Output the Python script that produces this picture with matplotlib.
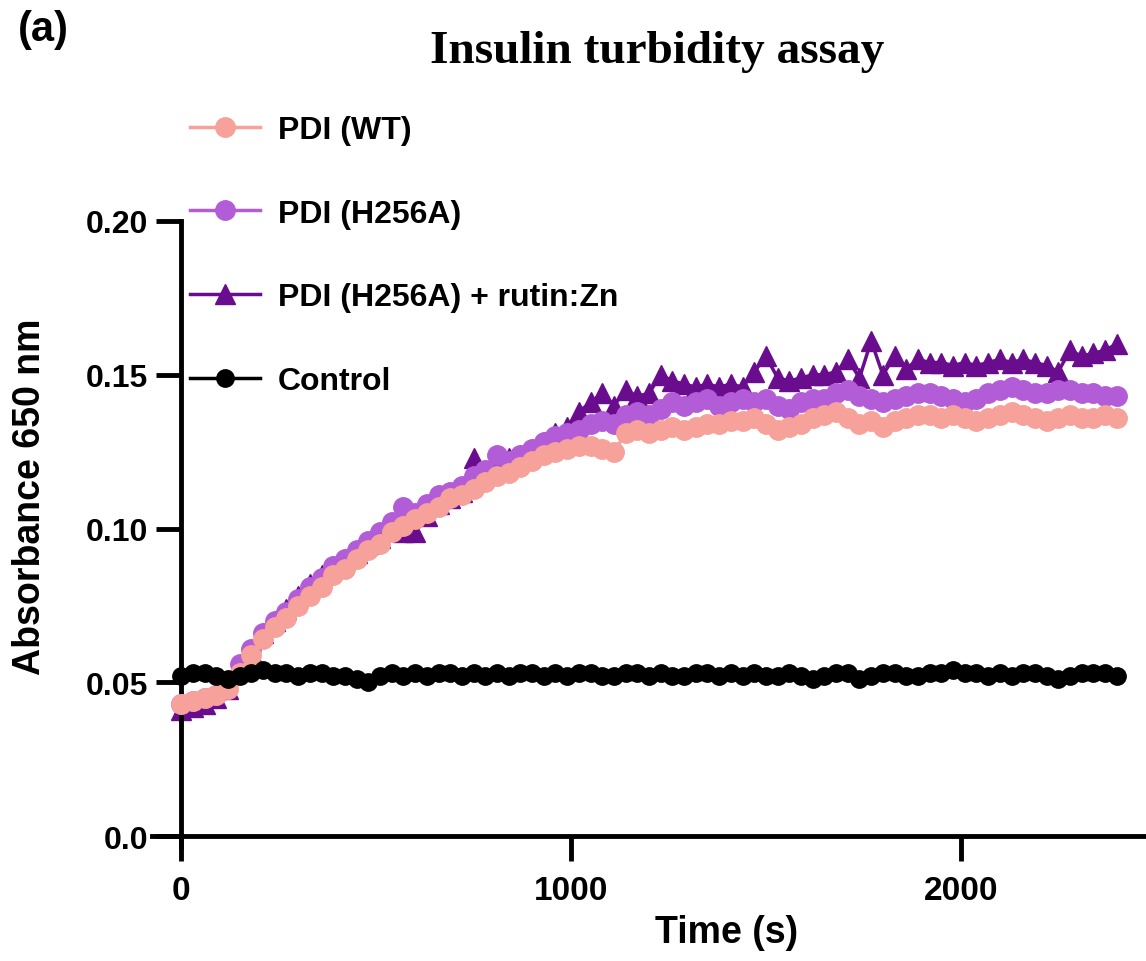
import matplotlib
matplotlib.use("Agg")
import matplotlib.pyplot as plt
import numpy as np

# time points (s), one reading every 30 s
time_s = list(range(0, 2401, 30))

pdi_wt = [
    0.043, 0.044, 0.045, 0.046, 0.048, 0.053, 0.059, 0.064, 0.068, 0.071,
    0.075, 0.078, 0.081, 0.085, 0.087, 0.090, 0.093, 0.095, 0.099, 0.101,
    0.103, 0.105, 0.107, 0.110, 0.111, 0.113, 0.115, 0.117, 0.118, 0.120,
    0.122, 0.124, 0.125, 0.126, 0.127, 0.127, 0.126, 0.125, 0.131, 0.132,
    0.131, 0.132, 0.133, 0.132, 0.133, 0.134, 0.134, 0.135, 0.135, 0.136,
    0.134, 0.132, 0.133, 0.134, 0.136, 0.137, 0.138, 0.136, 0.134, 0.135,
    0.133, 0.135, 0.136, 0.137, 0.137, 0.136, 0.137, 0.136, 0.135, 0.136,
    0.137, 0.138, 0.137, 0.136, 0.135, 0.136, 0.137, 0.136, 0.136, 0.137,
    0.136,
]

pdi_h256a = [
    0.043, 0.044, 0.045, 0.046, 0.050, 0.056, 0.061, 0.066, 0.070, 0.073,
    0.077, 0.081, 0.084, 0.088, 0.090, 0.093, 0.096, 0.099, 0.102, 0.107,
    0.105, 0.108, 0.111, 0.112, 0.114, 0.117, 0.119, 0.124, 0.122, 0.124,
    0.126, 0.128, 0.130, 0.131, 0.132, 0.134, 0.135, 0.134, 0.137, 0.138,
    0.137, 0.139, 0.141, 0.140, 0.141, 0.142, 0.140, 0.141, 0.142, 0.141,
    0.142, 0.140, 0.139, 0.141, 0.142, 0.142, 0.144, 0.145, 0.143, 0.142,
    0.141, 0.142, 0.143, 0.144, 0.144, 0.143, 0.142, 0.141, 0.142, 0.144,
    0.145, 0.146, 0.145, 0.144, 0.144, 0.145, 0.145, 0.144, 0.144, 0.143,
    0.143,
]

pdi_h256a_rutin = [
    0.041, 0.042, 0.043, 0.045, 0.048, 0.054, 0.060, 0.066, 0.070, 0.074,
    0.078, 0.082, 0.085, 0.088, 0.090, 0.092, 0.095, 0.097, 0.100, 0.099,
    0.099, 0.104, 0.108, 0.110, 0.112, 0.123, 0.118, 0.120, 0.123, 0.124,
    0.126, 0.128, 0.131, 0.133, 0.138, 0.141, 0.144, 0.140, 0.145, 0.143,
    0.144, 0.150, 0.148, 0.147, 0.146, 0.147, 0.146, 0.147, 0.146, 0.151,
    0.156, 0.149, 0.148, 0.149, 0.150, 0.150, 0.151, 0.155, 0.149, 0.161,
    0.150, 0.156, 0.152, 0.155, 0.154, 0.154, 0.153, 0.154, 0.153, 0.154,
    0.155, 0.154, 0.155, 0.154, 0.153, 0.151, 0.158, 0.156, 0.157, 0.158,
    0.160,
]

control = [
    0.052, 0.053, 0.053, 0.052, 0.051, 0.052, 0.053, 0.054, 0.053, 0.053,
    0.052, 0.053, 0.053, 0.052, 0.052, 0.051, 0.050, 0.052, 0.053, 0.052,
    0.053, 0.052, 0.053, 0.053, 0.052, 0.053, 0.052, 0.053, 0.052, 0.053,
    0.053, 0.052, 0.053, 0.052, 0.053, 0.053, 0.052, 0.052, 0.053, 0.053,
    0.052, 0.053, 0.052, 0.052, 0.053, 0.053, 0.052, 0.053, 0.052, 0.053,
    0.052, 0.052, 0.053, 0.052, 0.051, 0.052, 0.053, 0.053, 0.051, 0.052,
    0.053, 0.053, 0.052, 0.052, 0.053, 0.053, 0.054, 0.053, 0.053, 0.052,
    0.053, 0.052, 0.053, 0.053, 0.052, 0.051, 0.052, 0.053, 0.053, 0.053,
    0.052,
]

labels = ["PDI (WT)", "PDI (H256A)", "PDI (H256A) + rutin:Zn", "Control"]
y_ticks = [0.0, 0.05, 0.10, 0.15, 0.20]
y_tick_labels = ["0.0", "0.05", "0.10", "0.15", "0.20"]
x_ticks = [0, 1000, 2000]

plt.rcParams["font.family"] = ["Liberation Sans", "DejaVu Sans"]
plt.rcParams["font.weight"] = "bold"

fig = plt.figure(figsize=(11.46, 9.62), dpi=100)
ax = fig.add_axes([152 / 1146, 1 - 848 / 962, 1 - 152 / 1146, (848 - 222) / 962])

ax.plot(time_s, pdi_h256a_rutin, color="#6A0C8E", marker="^", markersize=14,
        linewidth=2.5, label=labels[2], zorder=2)
ax.plot(time_s, pdi_h256a, color="#B35CD7", marker="o", markersize=14,
        linewidth=2.5, label=labels[1], zorder=3)
ax.plot(time_s, pdi_wt, color="#F6A19A", marker="o", markersize=14,
        linewidth=2.5, label=labels[0], zorder=4)
ax.plot(time_s, control, color="black", marker="o", markersize=12.5,
        linewidth=2.5, label=labels[3], zorder=5)

ax.set_xlim(-75, 2475)
ax.set_ylim(-0.0035, 0.2)

for side in ["top", "right"]:
    ax.spines[side].set_visible(False)
ax.spines["left"].set_position(("data", 0))
ax.spines["bottom"].set_position(("data", 0))
ax.spines["left"].set_linewidth(3.5)
ax.spines["bottom"].set_linewidth(3.5)

ax.set_xticks(x_ticks)
ax.set_xticklabels([str(t) for t in x_ticks])
ax.set_yticks(y_ticks)
ax.set_yticklabels(y_tick_labels)
ax.tick_params(axis="both", direction="out", length=18, width=3.5)
ax.tick_params(axis="y", labelsize=23, pad=6)
ax.tick_params(axis="x", labelsize=24, pad=10)

ax.set_xlabel("Time (s)", fontsize=27, fontweight="bold")
ax.xaxis.set_label_coords((727 - 152) / 994, (848 - 915) / 626)
ax.set_ylabel("Absorbance 650 nm", fontsize=27, fontweight="bold")
ax.yaxis.set_label_coords((48 - 152) / 994, (848 - 497) / 626)

handles, labs = ax.get_legend_handles_labels()
order = [labs.index(l) for l in labels]
fig.legend([handles[i] for i in order], [labs[i] for i in order],
           loc="upper left", bbox_to_anchor=(190 / 1146, 1 - 116 / 962),
           frameon=False, fontsize=23, labelspacing=1.68, handlelength=2.2,
           handletextpad=0.55, borderpad=0, borderaxespad=0)

fig.text(657 / 1146, 1 - 52 / 962, "Insulin turbidity assay", ha="center",
         va="center", fontsize=34, fontweight="bold",
         family=["Liberation Serif", "DejaVu Serif"])
fig.text(18 / 1146, 1 - 10 / 962, "(a)", ha="left", va="top",
         fontsize=30, fontweight="bold")

fig.savefig("out.png", dpi=100)
